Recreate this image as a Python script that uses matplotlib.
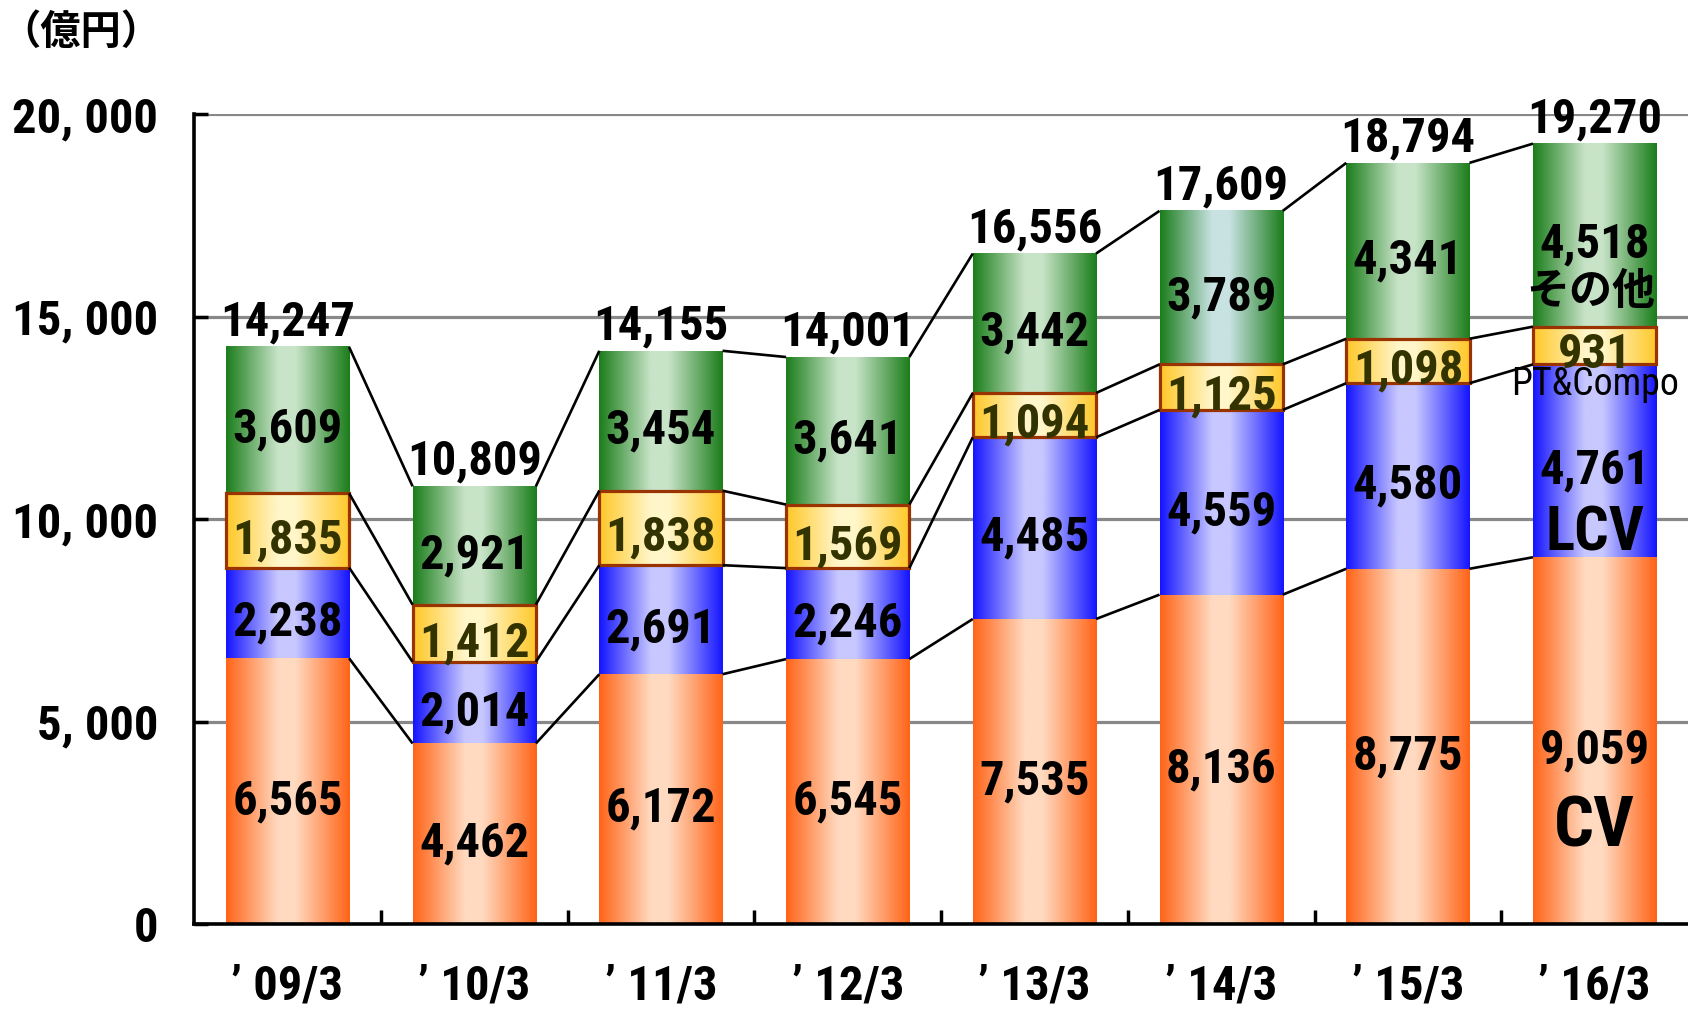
import numpy as np
import matplotlib.pyplot as plt
from matplotlib import font_manager
from matplotlib.colors import LinearSegmentedColormap

# pick the narrowest installed sans family for the condensed bold labels
_fonts = font_manager.fontManager.ttflist
_names = {f.name for f in _fonts}
if "Liberation Sans Narrow" in _names:
    NARROW, STRETCH, FS = "Liberation Sans Narrow", "normal", 36
elif "Roboto Condensed" in _names:
    NARROW, STRETCH, FS = "Roboto Condensed", "normal", 35
elif any(f.name == "DejaVu Sans" and "condensed" in str(f.stretch) for f in _fonts):
    NARROW, STRETCH, FS = "DejaVu Sans", "condensed", 27
else:
    NARROW, STRETCH, FS = "Liberation Sans", "normal", 30
CJK = ["Noto Sans CJK JP", "DejaVu Sans"]

years = ["’ 09/3", "’ 10/3", "’ 11/3", "’ 12/3", "’ 13/3", "’ 14/3", "’ 15/3", "’ 16/3"]
cv = [6565, 4462, 6172, 6545, 7535, 8136, 8775, 9059]
lcv = [2238, 2014, 2691, 2246, 4485, 4559, 4580, 4761]
pt = [1835, 1412, 1838, 1569, 1094, 1125, 1098, 931]
other = [3609, 2921, 3454, 3641, 3442, 3789, 4341, 4518]
totals = [14247, 10809, 14155, 14001, 16556, 17609, 18794, 19270]
yticks = [0, 5000, 10000, 15000, 20000]
ytick_labels = ["0", "5, 000", "10, 000", "15, 000", "20, 000"]

# name, values, edge colour, centre colour, text colour
layers = [
    ("CV", cv, "#FF6418", "#FFDAC0", "black"),
    ("LCV", lcv, "#1414FF", "#C8C8FF", "black"),
    ("PT&Compo", pt, "#FFC828", "#FFF6CA", "#333300"),
    ("その他", other, "#1B7D1B", "#C8E4C8", "black"),
]

lab = dict(family=NARROW, fontstretch=STRETCH, fontweight="bold")

fig = plt.figure(figsize=(16.88, 10.09), dpi=100)
ax = fig.add_axes([0.115, 0.084, 0.885, 0.803])

x = np.arange(len(years))
width = 0.66
grad = np.linspace(0, 1, 256).reshape(1, -1)

bottom = np.zeros(len(years))
levels = []
for name, vals, edge, light, tcol in layers:
    vals = np.array(vals)
    is_pt = name == "PT&Compo"
    bars = ax.bar(x, vals, width, bottom=bottom, facecolor="none",
                  edgecolor="#993300" if is_pt else "none",
                  linewidth=2.3 if is_pt else 0, zorder=3)
    for i, b in enumerate(bars):
        centre = light
        if name == "その他" and i == 5:
            centre = "#C8E2E2"
        cmap = LinearSegmentedColormap.from_list(
            f"{name}{i}", [(0, edge), (0.42, centre), (0.56, centre), (1, edge)])
        x0, y0 = b.get_x(), b.get_y()
        ax.imshow(grad, cmap=cmap, aspect="auto", interpolation="bilinear",
                  extent=[x0, x0 + b.get_width(), y0, y0 + b.get_height()],
                  zorder=2.5)
        ax.annotate(f"{vals[i]:,}", (x[i], y0 + b.get_height() / 2),
                    xytext=(0, -7), textcoords="offset points",
                    ha="center", va="center", fontsize=FS, color=tcol,
                    zorder=5, **lab)
    bottom = bottom + vals
    levels.append(bottom.copy())

# connector lines between adjacent bars
for lvl in levels:
    for i in range(len(x) - 1):
        ax.plot([x[i] + width / 2, x[i + 1] - width / 2], [lvl[i], lvl[i + 1]],
                color="black", lw=1.9, zorder=4, solid_capstyle="butt")

for i, t in enumerate(totals):
    ax.annotate(f"{t:,}", (x[i], t), xytext=(0, 1), textcoords="offset points",
                ha="center", va="bottom", fontsize=FS, color="black", zorder=5,
                annotation_clip=False, **lab)

# category names on the last bar
last = len(x) - 1
cum = [0] + [lv[last] for lv in levels]
mids = [(cum[k] + cum[k + 1]) / 2 for k in range(4)]
ax.annotate("CV", (x[last], mids[0]), xytext=(0, -62), textcoords="offset points",
            ha="center", va="center", fontsize=FS * 1.45, zorder=5, **lab)
ax.annotate("LCV", (x[last], mids[1]), xytext=(0, -52), textcoords="offset points",
            ha="center", va="center", fontsize=FS * 1.25, zorder=5, **lab)
ax.annotate("PT&Compo", (x[last], mids[2]), xytext=(0, -28), textcoords="offset points",
            ha="center", va="center", fontsize=FS * 0.78, family=NARROW,
            fontstretch=STRETCH, zorder=5, annotation_clip=False)
ax.annotate("その他", (x[last], mids[3]), xytext=(-3, -40), textcoords="offset points",
            ha="center", va="center", fontsize=31, fontweight="bold", family=CJK, zorder=5)

ax.set_xlim(-0.5, len(x) - 0.5)
ax.set_ylim(0, 20000)

ax.set_xticks(x[:-1] + 0.5)
ax.set_xticklabels([])
ax.set_xticks(x, minor=True)
ax.set_xticklabels(years, minor=True, fontsize=FS, **lab)
ax.tick_params(axis="x", which="major", direction="in", length=10, width=2.5)
ax.tick_params(axis="x", which="minor", length=0, pad=28)

ax.set_yticks(yticks)
ax.set_yticklabels(ytick_labels, fontsize=FS, **lab)
ax.tick_params(axis="y", direction="in", length=10, width=2.5, pad=26)

ax.set_axisbelow(True)
ax.yaxis.grid(True, color="#888888", lw=2.3)
for side in ("top", "right"):
    ax.spines[side].set_visible(False)
for side in ("left", "bottom"):
    ax.spines[side].set_linewidth(2.6)
    ax.spines[side].set_zorder(6)

fig.text(0.0, 0.968, "（億円）", fontsize=29, fontweight="bold", family=CJK,
         ha="left", va="center")

fig.savefig("out.png", dpi=100)
